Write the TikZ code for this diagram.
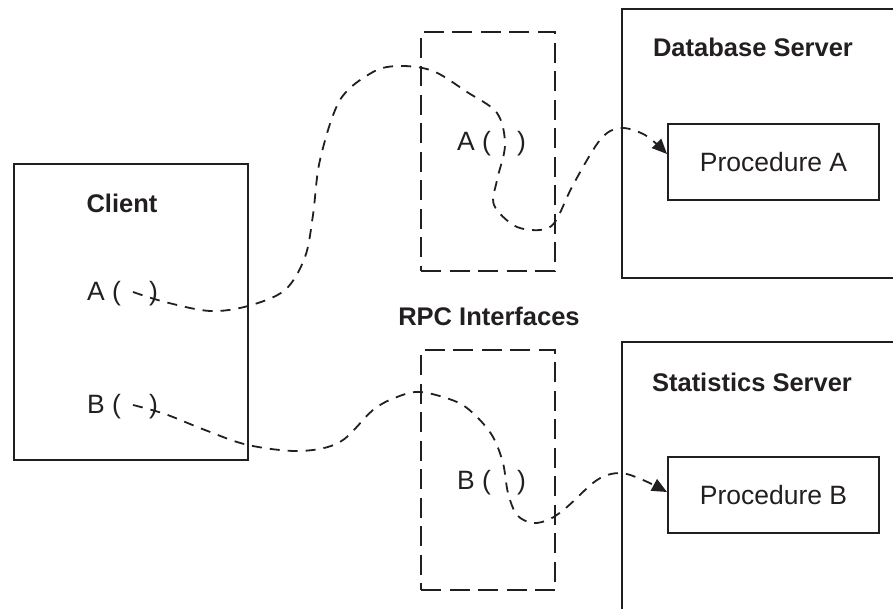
\documentclass[tikz,border=0pt]{standalone}
\usepackage{fontspec}
\setmainfont{Liberation Sans}
\usetikzlibrary{arrows.meta,calc}
\definecolor{ink}{RGB}{35,31,32}
\begin{document}
\begin{tikzpicture}[x=1pt,y=-1pt,
  solidbox/.style={draw=ink, line width=2.3pt, inner sep=0pt},
  probox/.style={draw=ink, line width=2pt, minimum width=211pt, minimum height=76pt, inner sep=0pt, font=\fontsize{26.5}{30}\selectfont, text=ink},
  ifbox/.style={draw=ink, line width=1.9pt, dash pattern=on 20pt off 8.5pt, minimum width=134pt, inner sep=0pt},
  title/.style={font=\bfseries\fontsize{25.5}{30}\selectfont, text=ink, inner sep=0pt, anchor=base},
  lbl/.style={font=\fontsize{26.5}{30}\selectfont, text=ink, inner sep=0pt, anchor=base west},
  flow/.style={draw=ink, line width=1.8pt, dash pattern=on 10pt off 8pt, -{Triangle[length=15pt,width=13pt]}},
]
\useasboundingbox (0,0) rectangle (893,609);
\clip (0,0) rectangle (893,609);

% boxes
\node[solidbox, minimum width=234pt, minimum height=296pt] (client) at (131,312) {};
\node[ifbox, minimum height=239pt] (ifa) at (488,151.5) {};
\node[ifbox, minimum height=240pt] (ifb) at (488,470) {};
\node[solidbox, minimum width=298pt, minimum height=269pt] (db) at (771,143.5) {};
\node[solidbox, minimum width=298pt, minimum height=298pt] (stats) at (771,491) {};
\node[probox] (procA) at (773.5,162) {Procedure A};
\node[probox] (procB) at (773.5,495) {Procedure B};

% titles
\node[title] (tclient) at (122,213) {Client};
\node[title] (tdb) at (753,57) {Database Server};
\node[title] (tstats) at (752,391) {Statistics Server};
\node[title] (trpc) at (489,325) {RPC Interfaces};

% labels
\node[lbl] (la) at (87,301) {A (\hspace{28pt})};
\node[lbl] (lb) at (87,413) {B (\hspace{28pt})};
\node[lbl] (ia) at (457,151) {A (\hspace{26pt})};
\node[lbl] (ib) at (457,489) {B (\hspace{26pt})};

% connectors
\coordinate (sa) at (133,292);
\coordinate (sb) at (133,405);
\coordinate (ta) at ($(procA.west)+(0,-8)$);
\coordinate (tb) at ($(procB.west)+(0,-3)$);

\draw[flow] plot[smooth, tension=0.55] coordinates {(sa) (165,302) (210,311) (248,306) (285,290) (305,257) (313,215) (320,160) (340,100) (373,72) (400,66) (433,71) (467,92) (497,113) (505,145) (497,180) (494,205) (515,226) (540,230) (555,222) (573,185) (600,140) (620,128) (645,135) (ta)};

\draw[flow] plot[smooth, tension=0.55] coordinates {(sb) (165,414) (205,430) (248,445) (300,451) (340,442) (373,410) (397,397) (421,392) (457,402) (477,417) (493,437) (503,463) (508,493) (517,515) (533,523) (550,519) (567,507) (597,480) (620,473) (643,480) (tb)};
\end{tikzpicture}
\end{document}
